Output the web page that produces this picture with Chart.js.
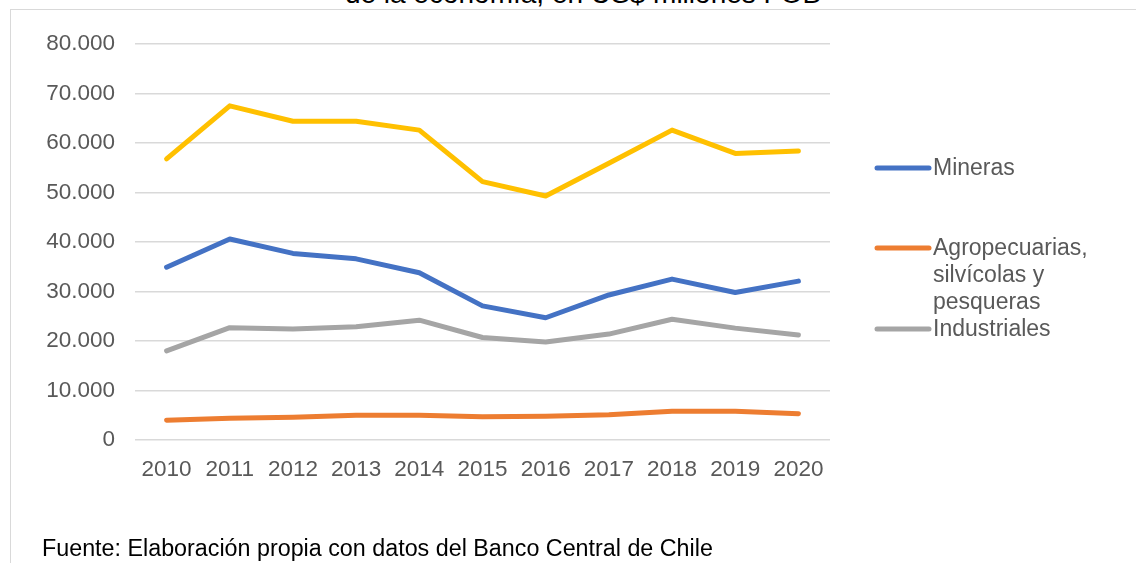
<!DOCTYPE html>
<html>
<head>
<meta charset="utf-8">
<script src="https://cdn.jsdelivr.net/npm/chart.js@4"></script>
<style>
  html, body { margin:0; padding:0; background:#fff; overflow:hidden; }
  body { width:1136px; height:563px; position:relative; font-family:"Liberation Sans", Arial, sans-serif; }
  #frame { position:absolute; left:10px; top:9px; width:1200px; height:600px; border:1px solid #d9d9d9; box-sizing:border-box; }
  #title { position:absolute; left:0; width:1166px; text-align:center; top:-22px; font-size:28px; color:#000; white-space:nowrap; }
  #foot { position:absolute; left:42px; top:535px; font-size:23.3px; color:#000; white-space:nowrap; }
  canvas { position:absolute; left:0; top:0; }
</style>
</head>
<body>
<div id="frame"></div>
<div id="title">de la economía, en US$ millones FOB</div>
<canvas id="c" width="1136" height="563"></canvas>
<div id="foot">Fuente: Elaboración propia con datos del Banco Central de Chile</div>
<script>
const years = ['2010','2011','2012','2013','2014','2015','2016','2017','2018','2019','2020'];
const mineras = [34900, 40600, 37700, 36600, 33800, 27100, 24700, 29300, 32500, 29800, 32100];
const agro = [4000, 4400, 4600, 5000, 5000, 4700, 4800, 5100, 5800, 5800, 5300];
const industriales = [18000, 22700, 22400, 22900, 24200, 20700, 19800, 21400, 24400, 22600, 21200];
const total = [56800, 67500, 64400, 64400, 62600, 52200, 49300, 55900, 62600, 57900, 58400];
const legendLabels = [['Mineras'], ['Agropecuarias,', 'silvícolas y', 'pesqueras'], ['Industriales']];
const yTicks = [0, 10000, 20000, 30000, 40000, 50000, 60000, 70000, 80000];

const FONT = "'Liberation Sans', Arial, sans-serif";
const TXT = '#595959';
const colors = ['#4472C4', '#ED7D31', '#A5A5A5', '#FFC000'];

function fmt(v) {
  return String(v).replace(/\B(?=(\d{3})+(?!\d))/g, '.');
}

const legendPlugin = {
  id: 'customLegend',
  afterDraw(chart) {
    const ctx = chart.ctx;
    const ys = [168, 248, 329];
    ctx.save();
    ctx.font = '23px ' + FONT;
    ctx.textBaseline = 'middle';
    ctx.textAlign = 'left';
    legendLabels.forEach((lines, i) => {
      const y = ys[i];
      ctx.strokeStyle = chart.data.datasets[i].borderColor;
      ctx.lineWidth = 5;
      ctx.lineCap = 'round';
      ctx.beginPath();
      ctx.moveTo(877, y);
      ctx.lineTo(929, y);
      ctx.stroke();
      ctx.fillStyle = TXT;
      lines.forEach((t, j) => ctx.fillText(t, 933, y + 1 + j * 27));
    });
    ctx.restore();
  }
};

new Chart(document.getElementById('c'), {
  type: 'line',
  data: {
    labels: years,
    datasets: [
      { label: 'Mineras', data: mineras, borderColor: colors[0] },
      { label: 'Agropecuarias, silvícolas y pesqueras', data: agro, borderColor: colors[1] },
      { label: 'Industriales', data: industriales, borderColor: colors[2] },
      { label: 'Total', data: total, borderColor: colors[3] }
    ]
  },
  options: {
    responsive: false,
    animation: false,
    layout: { padding: { left: 10, top: 44, right: 306, bottom: 73 } },
    plugins: { legend: { display: false }, tooltip: { enabled: false }, title: { display: false } },
    elements: {
      point: { radius: 0 },
      line: { tension: 0, borderWidth: 5, borderCapStyle: 'round', borderJoinStyle: 'round', fill: false }
    },
    scales: {
      x: {
        offset: true,
        grid: { display: false, drawTicks: false },
        border: { display: false },
        ticks: { font: { size: 22.5, family: FONT }, color: TXT, padding: 16, maxRotation: 0 },
        afterFit(s) { s.height = 50; }
      },
      y: {
        min: 0, max: 80000,
        afterBuildTicks(s) { s.ticks = yTicks.map(v => ({ value: v })); },
        grid: { color: '#d9d9d9', lineWidth: 1.5, drawTicks: false },
        border: { display: false },
        ticks: { font: { size: 22.5, family: FONT }, color: TXT, padding: 20, callback: v => fmt(v) },
        afterFit(s) { s.width = 125; }
      }
    }
  },
  plugins: [legendPlugin]
});
</script>
</body>
</html>
